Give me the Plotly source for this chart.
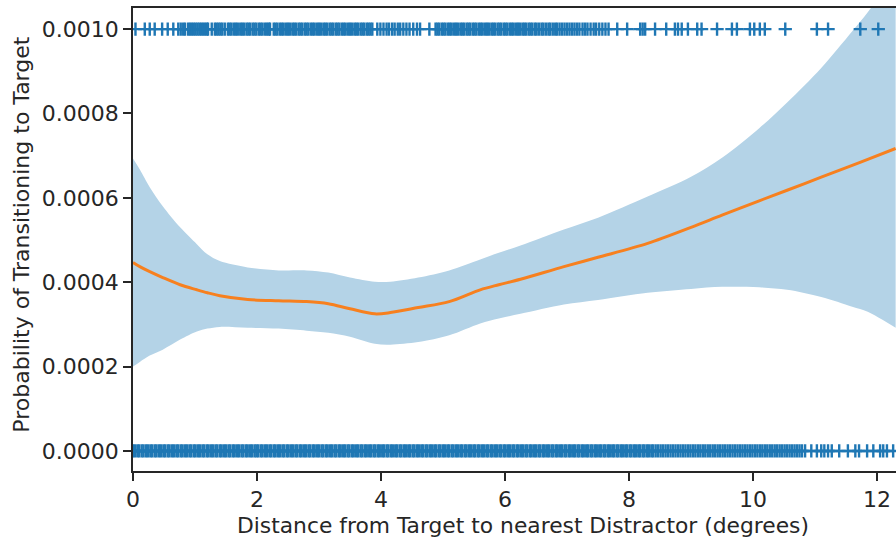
import plotly.graph_objects as go

# Logistic fit of transition probability vs. target-distractor distance,
# with its 95% confidence band
fit_x = [0.00, 0.11, 0.27, 0.48, 0.76, 1.03, 1.20, 1.40, 1.85, 2.35, 2.80, 3.15,
         3.50, 3.90, 4.15, 4.60, 5.10, 5.60, 5.90, 6.25, 6.95, 7.50, 8.30, 9.00,
         9.50, 10.10, 10.55, 11.10, 11.60, 11.85, 12.30]
fit_y = [0.000447, 0.000437, 0.000425, 0.000411, 0.000394, 0.000382, 0.000375,
         0.000368, 0.000359, 0.000356, 0.000354, 0.000349, 0.000337, 0.000325,
         0.000328, 0.000340, 0.000354, 0.000382, 0.000394, 0.000407, 0.000437,
         0.000459, 0.000492, 0.000530, 0.000559, 0.000593, 0.000618, 0.000649,
         0.000677, 0.000691, 0.000717]
ci_upper = [0.000693, 0.000667, 0.000625, 0.000580, 0.000530, 0.000490, 0.000466,
            0.000450, 0.000435, 0.000428, 0.000428, 0.000423, 0.000411, 0.000401,
            0.000401, 0.000411, 0.000428, 0.000454, 0.000470, 0.000487, 0.000525,
            0.000553, 0.000603, 0.000650, 0.000695, 0.000765, 0.000826, 0.000908,
            0.000995, 0.001040, 0.001130]
ci_lower = [0.000200, 0.000211, 0.000226, 0.000240, 0.000264, 0.000283, 0.000290,
            0.000294, 0.000292, 0.000290, 0.000285, 0.000280, 0.000271, 0.000254,
            0.000252, 0.000258, 0.000274, 0.000302, 0.000314, 0.000325, 0.000347,
            0.000358, 0.000375, 0.000384, 0.000389, 0.000388, 0.000382, 0.000365,
            0.000342, 0.000330, 0.000292]

# Individual observations: distance of each trial, split by outcome
transition_y = 0.001
transition_x = [
    0.04, 0.19, 0.27, 0.35, 0.47, 0.56, 0.65, 0.73, 0.77, 0.81, 0.84,
    0.89, 0.92, 0.95, 0.98, 1.01, 1.04, 1.07, 1.10, 1.13, 1.16, 1.19, 1.21,
    1.27, 1.32, 1.35, 1.38, 1.41, 1.44, 1.48,
    1.53, 1.56, 1.59, 1.63, 1.66, 1.69, 1.73, 1.76, 1.79, 1.83, 1.86, 1.89,
    1.93, 1.96, 1.99, 2.03, 2.06, 2.09, 2.13, 2.16, 2.19, 2.21,
    2.27, 2.30, 2.33, 2.37, 2.40, 2.43, 2.47, 2.50, 2.53, 2.57, 2.60, 2.63,
    2.67, 2.70, 2.73, 2.77, 2.80, 2.83, 2.87, 2.90, 2.93, 2.97, 3.00, 3.03,
    3.07, 3.10, 3.13, 3.17, 3.20, 3.23, 3.27, 3.30, 3.33, 3.37, 3.40, 3.43,
    3.47, 3.50, 3.53, 3.57, 3.60, 3.63, 3.67, 3.70, 3.73, 3.77, 3.80, 3.83, 3.86,
    3.94, 3.99, 4.04, 4.09, 4.13, 4.18, 4.22, 4.27, 4.31, 4.36, 4.41, 4.46,
    4.52, 4.58, 4.63, 4.78,
    4.88, 4.91, 4.94, 4.98, 5.01, 5.04, 5.08, 5.11, 5.14, 5.18, 5.21, 5.24,
    5.28, 5.31, 5.34, 5.38, 5.41, 5.44, 5.48, 5.51, 5.54, 5.58, 5.61, 5.64,
    5.68, 5.71, 5.74, 5.78, 5.81, 5.84, 5.88, 5.91, 5.94, 5.98, 6.01, 6.04,
    6.08, 6.11, 6.14, 6.18, 6.21, 6.24, 6.28, 6.31, 6.34, 6.38, 6.41, 6.44,
    6.48, 6.51, 6.55, 6.59, 6.62, 6.66, 6.70, 6.73, 6.77, 6.81, 6.84, 6.88,
    6.92, 6.96, 7.00, 7.04, 7.08, 7.12, 7.16, 7.20, 7.25, 7.29, 7.33, 7.38,
    7.43, 7.47, 7.52, 7.57, 7.62, 7.67,
    7.81, 7.97, 8.18, 8.22, 8.26, 8.42, 8.60, 8.74, 8.79, 8.85, 8.95, 9.10,
    9.17, 9.42, 9.66, 9.74, 9.95, 10.02, 10.11, 10.19, 10.52, 11.03, 11.21,
    11.73, 12.02,
]
no_transition_y = 0.0
no_transition_x = [
    0.00, 0.03, 0.07, 0.10, 0.14, 0.17, 0.21, 0.24, 0.28, 0.31, 0.35, 0.38, 0.42, 0.45, 0.49,
    0.52, 0.56, 0.59, 0.63, 0.66, 0.70, 0.73, 0.77, 0.80, 0.84, 0.87, 0.91, 0.94, 0.98,
    1.01, 1.05, 1.08, 1.12, 1.15, 1.19, 1.22, 1.26, 1.29, 1.33, 1.36, 1.40, 1.43, 1.47, 1.50,
    1.54, 1.57, 1.61, 1.64, 1.68, 1.71, 1.75, 1.78, 1.82, 1.85, 1.89, 1.92, 1.96, 1.99,
    2.02, 2.06, 2.09, 2.13, 2.16, 2.20, 2.23, 2.27, 2.30, 2.34, 2.37, 2.41, 2.44, 2.48, 2.51,
    2.55, 2.58, 2.62, 2.65, 2.69, 2.72, 2.76, 2.79, 2.83, 2.86, 2.90, 2.93, 2.97,
    3.00, 3.04, 3.07, 3.11, 3.14, 3.18, 3.21, 3.25, 3.28, 3.32, 3.35, 3.39, 3.42, 3.46, 3.49,
    3.53, 3.56, 3.60, 3.63, 3.67, 3.70, 3.74, 3.77, 3.81, 3.84, 3.88, 3.91, 3.95, 3.98,
    4.02, 4.05, 4.09, 4.12, 4.16, 4.19, 4.23, 4.26, 4.30, 4.33, 4.37, 4.40, 4.44, 4.47, 4.51,
    4.54, 4.58, 4.61, 4.65, 4.68, 4.72, 4.75, 4.79, 4.82, 4.86, 4.89, 4.93, 4.96,
    5.00, 5.03, 5.07, 5.10, 5.14, 5.17, 5.21, 5.24, 5.28, 5.31, 5.35, 5.38, 5.42, 5.45, 5.49,
    5.52, 5.56, 5.59, 5.63, 5.66, 5.70, 5.73, 5.77, 5.80, 5.84, 5.87, 5.91, 5.94, 5.98,
    6.01, 6.05, 6.08, 6.12, 6.15, 6.19, 6.22, 6.26, 6.29, 6.33, 6.36, 6.40, 6.43, 6.47, 6.50,
    6.54, 6.57, 6.61, 6.64, 6.68, 6.71, 6.75, 6.78, 6.82, 6.85, 6.89, 6.92, 6.96, 6.99,
    7.03, 7.06, 7.10, 7.13, 7.17, 7.20, 7.24, 7.27, 7.31, 7.34, 7.38, 7.41, 7.45, 7.48, 7.52,
    7.55, 7.59, 7.62, 7.66, 7.69, 7.73, 7.76, 7.80, 7.83, 7.87, 7.90, 7.94, 7.97,
    8.01, 8.04, 8.08, 8.11, 8.15, 8.18, 8.22, 8.25, 8.29, 8.32, 8.36, 8.39, 8.43,
    8.47, 8.51, 8.55, 8.59, 8.63, 8.67, 8.71, 8.75, 8.79, 8.83, 8.87, 8.91, 8.95, 8.99,
    9.03, 9.07, 9.11, 9.15, 9.19, 9.23, 9.27, 9.31, 9.35, 9.39, 9.43, 9.47, 9.51, 9.55,
    9.59, 9.63, 9.67, 9.71, 9.75, 9.79, 9.83, 9.87, 9.91, 9.95, 9.99, 10.03, 10.07,
    10.11, 10.15, 10.19, 10.23, 10.27, 10.31, 10.35, 10.39, 10.43, 10.47, 10.51, 10.55,
    10.59, 10.63, 10.67, 10.71, 10.75,
    10.79, 10.84, 10.94, 11.03, 11.10, 11.15, 11.21, 11.27, 11.39, 11.53, 11.65,
    11.71, 11.84, 11.94, 12.05, 12.10, 12.16, 12.26,
]

y_ticks = [0.0, 0.0002, 0.0004, 0.0006, 0.0008, 0.0010]
y_tick_text = ["0.0000", "0.0002", "0.0004", "0.0006", "0.0008", "0.0010"]
x_ticks = [0, 2, 4, 6, 8, 10, 12]
x_title = "Distance from Target to nearest Distractor (degrees)"
y_title = "Probability of Transitioning to Target"

INK = "#262626"
BLUE = "#1f77b4"
FONT = "DejaVu Sans"
FSIZE = 22

fig = go.Figure()

# confidence band
fig.add_trace(go.Scatter(x=fit_x, y=ci_lower, mode="lines",
                         line=dict(width=0, shape="spline", smoothing=0.9),
                         hoverinfo="skip", showlegend=False))
fig.add_trace(go.Scatter(x=fit_x, y=ci_upper, mode="lines",
                         line=dict(width=0, shape="spline", smoothing=0.9),
                         fill="tonexty", fillcolor="#b4d3e7",
                         hoverinfo="skip", showlegend=False))

# observations as "+" markers
plus = dict(symbol="cross-thin", size=9.5, line=dict(width=2.4, color=BLUE))
fig.add_trace(go.Scatter(x=no_transition_x, y=[no_transition_y] * len(no_transition_x),
                         mode="markers", marker=plus, showlegend=False))
fig.add_trace(go.Scatter(x=transition_x, y=[transition_y] * len(transition_x),
                         mode="markers", marker=plus, showlegend=False))

# fitted curve
fig.add_trace(go.Scatter(x=fit_x, y=fit_y, mode="lines",
                         line=dict(color="#f7801f", width=3, shape="spline", smoothing=0.9),
                         showlegend=False))

axis_common = dict(
    ticks="outside", ticklen=8, tickwidth=1.6, tickcolor=INK,
    showline=True, linecolor=INK, linewidth=1.6,
    showgrid=False, zeroline=False,
    tickfont=dict(family=FONT, size=FSIZE, color=INK),
)

fig.update_layout(
    width=896, height=539,
    margin=dict(l=133, r=0, t=8, b=68),
    paper_bgcolor="white", plot_bgcolor="white",
    font=dict(family=FONT, size=FSIZE, color=INK),
    xaxis=dict(range=[0, 12.306], tickvals=x_ticks, mirror=True, **axis_common),
    yaxis=dict(range=[-0.0000475, 0.00105], tickvals=y_ticks,
               ticktext=y_tick_text, **axis_common),
)

# axis titles, centred on the full axes box (which runs past the right edge)
fig.add_annotation(text=x_title, xref="paper", yref="paper", x=0.5105, y=0,
                   xanchor="center", yanchor="top", yshift=-40, showarrow=False,
                   font=dict(family=FONT, size=21.8, color=INK))
fig.add_annotation(text=y_title, xref="paper", yref="paper", x=0, y=0.5105,
                   xanchor="center", yanchor="middle", xshift=-111,
                   textangle=-90, showarrow=False,
                   font=dict(family=FONT, size=FSIZE, color=INK))

fig.write_html("out.html")
